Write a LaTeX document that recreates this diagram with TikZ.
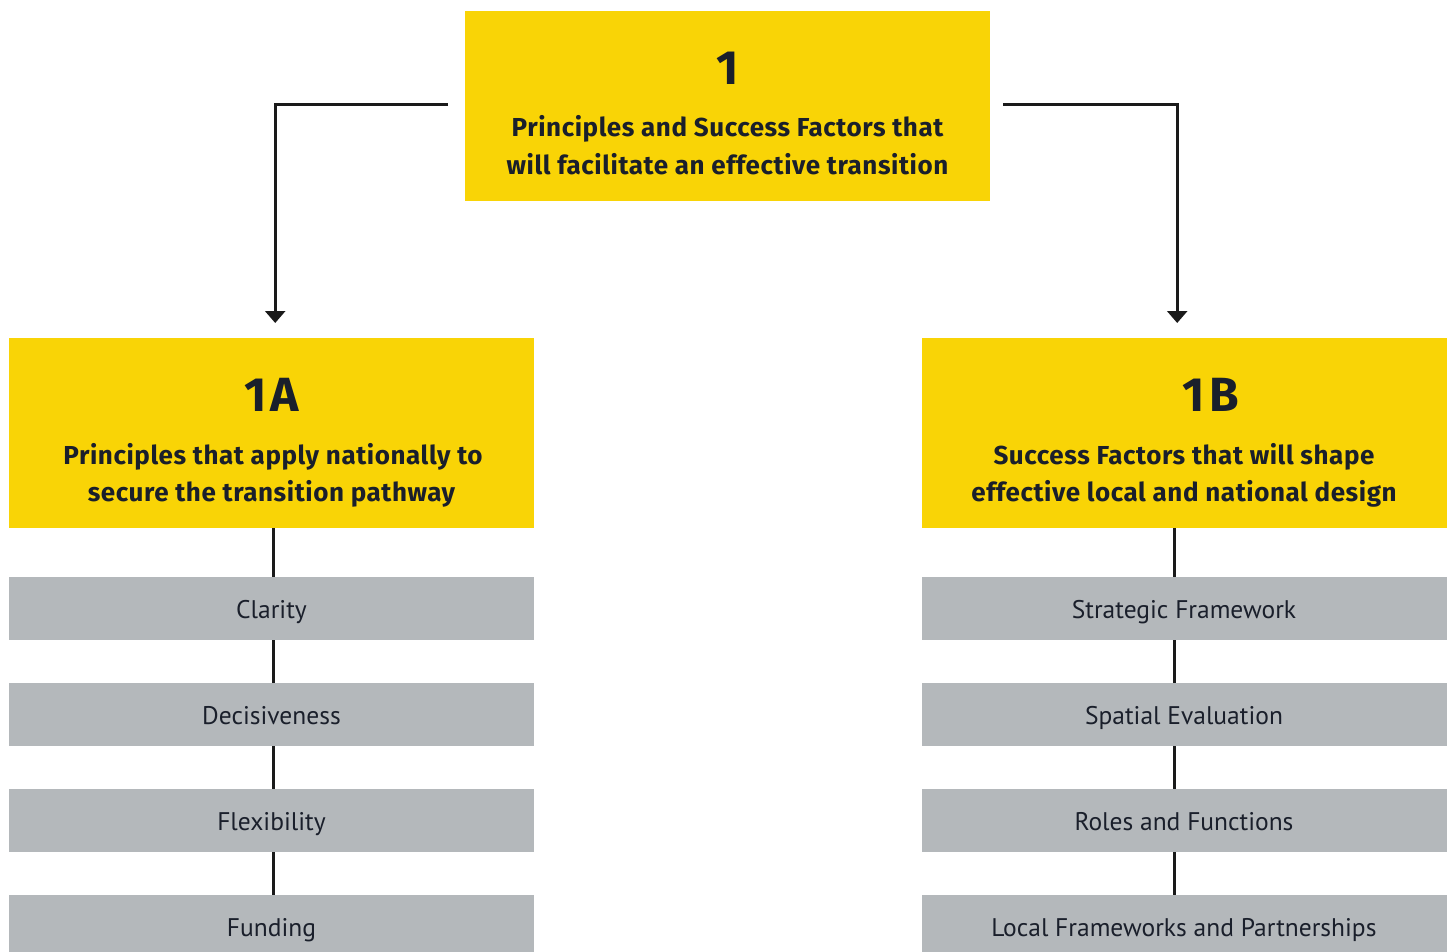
\documentclass[tikz,border=0pt]{standalone}
\usepackage{fontspec}
\setmainfont{PT Sans}
\newfontfamily\headfamily[LetterSpace=2.2]{Fira Sans Bold}
\newfontfamily\numfamily[LetterSpace=9]{Fira Sans Bold}
\usetikzlibrary{arrows.meta}
\definecolor{boxyellow}{HTML}{F9D406}
\definecolor{boxgrey}{HTML}{B4B8BB}
\definecolor{ink}{HTML}{1A1F2B}
\definecolor{wire}{HTML}{1A1A1A}
\tikzset{
  ybox/.style={fill=boxyellow, draw=none, minimum width=525pt, minimum height=190pt, inner sep=0pt, anchor=north west},
  gbox/.style={fill=boxgrey, draw=none, minimum width=525pt, minimum height=63pt, inner sep=0pt, anchor=north west},
  itemtxt/.style={text=ink, anchor=base, inner sep=0pt, font=\fontsize{25.5}{30}\selectfont},
  headnum/.style={text=ink, anchor=base, inner sep=0pt, font=\numfamily\fontsize{48}{50}\selectfont},
  headtxt/.style={text=ink, anchor=base, inner sep=0pt, font=\headfamily\fontsize{26}{30}\selectfont},
  wireline/.style={draw=wire, line width=2.6pt},
  wirearrow/.style={wireline, -{Triangle[width=20pt,length=12pt]}},
}
\begin{document}
\begin{tikzpicture}[x=1pt,y=-1pt]
\useasboundingbox (0,0) rectangle (1454,951);

% top box
\node[ybox] (top) at (465,11) {};
\node[headnum] (topnum) at (727.5,84) {1};
\node[headtxt] (toptxta) at (727.5,136.7) {Principles and Success Factors that};
\node[headtxt] (toptxtb) at (727.5,174.2) {will facilitate an effective transition};

% left column
\node[ybox] (A) at (9,338) {};
\node[headnum] (Anum) at (271.5,411.5) {1A};
\node[headtxt] (Atxta) at (273,464) {Principles that apply nationally to};
\node[headtxt] (Atxtb) at (271.5,501.5) {secure the transition pathway};

\node[gbox] (a1) at (9,577) {};
\node[gbox] (a2) at (9,683) {};
\node[gbox] (a3) at (9,789) {};
\node[gbox] (a4) at (9,895) {};
\node[itemtxt] (a1t) at (271.5,618.5) {Clarity};
\node[itemtxt] (a2t) at (271.5,724.5) {Decisiveness};
\node[itemtxt] (a3t) at (271.5,830.5) {Flexibility};
\node[itemtxt] (a4t) at (271.5,936.5) {Funding};

% right column
\node[ybox] (B) at (922,338) {};
\node[headnum] (Bnum) at (1211,411.5) {1B};
\node[headtxt] (Btxta) at (1184,464) {Success Factors that will shape};
\node[headtxt] (Btxtb) at (1184,501.5) {effective local and national design};

\node[gbox] (b1) at (922,577) {};
\node[gbox] (b2) at (922,683) {};
\node[gbox] (b3) at (922,789) {};
\node[gbox] (b4) at (922,895) {};
\node[itemtxt] (b1t) at (1184,618.5) {Strategic Framework};
\node[itemtxt] (b2t) at (1184,724.5) {Spatial Evaluation};
\node[itemtxt] (b3t) at (1184,830.5) {Roles and Functions};
\node[itemtxt] (b4t) at (1184,936.5) {Local Frameworks and Partnerships};

% arrows from the top box
\draw[wirearrow] ([xshift=-17pt,yshift=2pt]top.west) -| ([xshift=3.5pt,yshift=15pt]A.north);
\draw[wirearrow] ([xshift=13pt,yshift=2pt]top.east) -| ([xshift=-7.5pt,yshift=15pt]B.north);

% vertical links
\draw[wireline] ([xshift=1.5pt]A.south) -- ([xshift=1.5pt]a1.north);
\draw[wireline] ([xshift=1.5pt]a1.south) -- ([xshift=1.5pt]a2.north);
\draw[wireline] ([xshift=1.5pt]a2.south) -- ([xshift=1.5pt]a3.north);
\draw[wireline] ([xshift=1.5pt]a3.south) -- ([xshift=1.5pt]a4.north);
\draw[wireline] ([xshift=-10.5pt]B.south) -- ([xshift=-10.5pt]b1.north);
\draw[wireline] ([xshift=-10.5pt]b1.south) -- ([xshift=-10.5pt]b2.north);
\draw[wireline] ([xshift=-10.5pt]b2.south) -- ([xshift=-10.5pt]b3.north);
\draw[wireline] ([xshift=-10.5pt]b3.south) -- ([xshift=-10.5pt]b4.north);
\end{tikzpicture}
\end{document}
